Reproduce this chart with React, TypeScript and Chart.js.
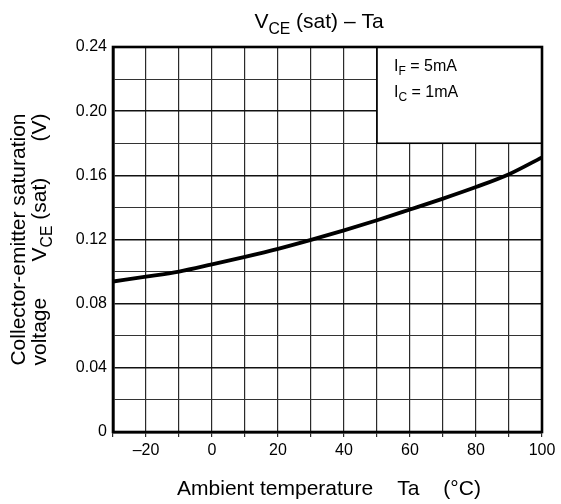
import React, { useEffect, useRef } from 'react';
import { Chart, registerables } from 'chart.js';

Chart.register(...registerables);

// ---- data ----
const temperatures = [-30, -20, -10, 0, 10, 20, 30, 40, 50, 60, 70, 80, 90, 100];
const vceSat = [0.0938, 0.0968, 0.1, 0.1045, 0.1092, 0.1142, 0.1198, 0.1257, 0.132, 0.1387, 0.1455, 0.1527, 0.1607, 0.1712];

const xLabelValues = [-20, 0, 20, 40, 60, 80, 100];
const xLabelTexts = ['\u201320', '0', '20', '40', '60', '80', '100'];
const yLabelValues = [0, 0.04, 0.08, 0.12, 0.16, 0.2, 0.24];
const yLabelTexts = ['0', '0.04', '0.08', '0.12', '0.16', '0.20', '0.24'];

const legendBoxX = [50, 100];
const legendBoxY = [0.18, 0.24];
const legendLines = [
  ['I', 'F', ' = 5mA'],
  ['I', 'C', ' = 1mA'],
];

const FONT = '"Liberation Sans", Arial, Helvetica, sans-serif';

type Part = { t: string; sub?: boolean };

function richWidth(ctx: CanvasRenderingContext2D, parts: Part[], size: number) {
  let w = 0;
  for (const p of parts) {
    ctx.font = `${p.sub ? size * 0.75 : size}px ${FONT}`;
    w += ctx.measureText(p.t).width;
  }
  return w;
}

function drawRich(ctx: CanvasRenderingContext2D, parts: Part[], x: number, y: number, size: number) {
  let cx = x;
  ctx.textAlign = 'left';
  ctx.textBaseline = 'alphabetic';
  for (const p of parts) {
    const s = p.sub ? size * 0.75 : size;
    ctx.font = `${s}px ${FONT}`;
    ctx.fillText(p.t, cx, p.sub ? y + size * 0.28 : y);
    cx += ctx.measureText(p.t).width;
  }
}

function findIndex(values: number[], v: number) {
  for (let i = 0; i < values.length; i++) if (Math.abs(values[i] - v) < 1e-6) return i;
  return -1;
}

const overlayPlugin = {
  id: 'overlay',
  afterDatasetsDraw(chart: any) {
    const { ctx, chartArea: ca, scales } = chart;
    const x = scales.x;
    const y = scales.y;
    ctx.save();
    // legend box
    const bx1 = x.getPixelForValue(legendBoxX[0]);
    const bx2 = x.getPixelForValue(legendBoxX[1]);
    const by1 = y.getPixelForValue(legendBoxY[1]);
    const by2 = y.getPixelForValue(legendBoxY[0]);
    ctx.fillStyle = '#fff';
    ctx.fillRect(bx1, by1, bx2 - bx1, by2 - by1);
    ctx.strokeStyle = '#000';
    ctx.lineWidth = 1.6;
    ctx.strokeRect(bx1, by1, bx2 - bx1, by2 - by1);
    ctx.fillStyle = '#000';
    legendLines.forEach((ln, i) => {
      drawRich(ctx, [{ t: ln[0] }, { t: ln[1], sub: true }, { t: ln[2] }], bx1 + 17, by1 + 24 + i * 26, 16);
    });
    // frame
    ctx.lineWidth = 2.6;
    ctx.strokeRect(ca.left, ca.top, ca.right - ca.left, ca.bottom - ca.top);

    // title
    const tParts: Part[] = [{ t: 'V' }, { t: 'CE', sub: true }, { t: ' (sat) \u2013 Ta' }];
    const tw = richWidth(ctx, tParts, 21);
    drawRich(ctx, tParts, 319 - tw / 2, 28, 21);

    // x axis title
    ctx.font = `21px ${FONT}`;
    const xPieces = ['Ambient temperature', 'Ta', '(\u00b0C)'];
    const gap = 24;
    const widths = xPieces.map((p) => ctx.measureText(p).width);
    const total = widths.reduce((a, b) => a + b, 0) + gap * 2;
    let cx = 329 - total / 2;
    ctx.textAlign = 'left';
    ctx.textBaseline = 'alphabetic';
    xPieces.forEach((p, i) => {
      ctx.fillText(p, cx, 495);
      cx += widths[i] + gap;
    });

    // y axis title (rotated)
    const midY = (ca.top + ca.bottom) / 2;
    ctx.translate(0, midY);
    ctx.rotate(-Math.PI / 2);
    const size = 21;
    ctx.font = `${size}px ${FONT}`;
    const line1 = 'Collector-emitter saturation';
    const l1w = ctx.measureText(line1).width;
    ctx.fillText(line1, -l1w / 2, 25);
    const segs: Part[][] = [
      [{ t: 'voltage' }],
      [{ t: 'V' }, { t: 'CE', sub: true }, { t: ' (sat)' }],
      [{ t: '(V)' }],
    ];
    const sw = segs.map((s) => richWidth(ctx, s, size));
    const free = l1w - sw.reduce((a, b) => a + b, 0);
    let px = -l1w / 2;
    segs.forEach((s, i) => {
      drawRich(ctx, s, px, 46, size);
      px += sw[i] + free / 2;
    });
    ctx.restore();
  },
};

export default function App() {
  const ref = useRef<HTMLCanvasElement | null>(null);
  useEffect(() => {
    if (!ref.current) return;
    Chart.defaults.font.family = FONT;
    const chart = new Chart(ref.current, {
      type: 'line',
      data: {
        datasets: [
          {
            data: temperatures.map((t, i) => ({ x: t, y: vceSat[i] })),
            borderColor: '#000',
            borderWidth: 3.8,
            pointRadius: 0,
            fill: false,
            cubicInterpolationMode: 'monotone',
          },
        ],
      },
      options: {
        responsive: false,
        animation: false,
        devicePixelRatio: 1,
        layout: { padding: { top: 47, right: 19, left: 0, bottom: 0 } },
        plugins: { legend: { display: false }, tooltip: { enabled: false }, title: { display: false } },
        scales: {
          x: {
            type: 'linear',
            min: -30,
            max: 100,
            afterFit: (s: any) => {
              s.height = 72;
            },
            ticks: {
              stepSize: 10,
              autoSkip: false,
              maxRotation: 0,
              color: '#000',
              font: { size: 16 },
              padding: 4,
              callback: (v: any) => {
                const i = findIndex(xLabelValues, Number(v));
                return i >= 0 ? xLabelTexts[i] : '';
              },
            },
            grid: {
              color: '#2a2a2a',
              lineWidth: 1.2,
              tickLength: 5,
              drawTicks: true,
            },
            border: { display: true, color: '#000', width: 2.6 },
          },
          y: {
            type: 'linear',
            min: 0,
            max: 0.24,
            afterFit: (s: any) => {
              s.width = 113;
            },
            ticks: {
              stepSize: 0.02,
              autoSkip: false,
              color: '#000',
              font: { size: 16 },
              padding: 6,
              callback: (v: any) => {
                const i = findIndex(yLabelValues, Number(v));
                return i >= 0 ? yLabelTexts[i] : '';
              },
            },
            grid: {
              drawTicks: false,
              color: (c: any) => (findIndex(yLabelValues, c.tick ? c.tick.value : -1) >= 0 ? '#111' : '#333'),
              lineWidth: (c: any) => (findIndex(yLabelValues, c.tick ? c.tick.value : -1) >= 0 ? 1.6 : 1.1),
            },
            border: { display: true, color: '#000', width: 2.6 },
          },
        },
      },
      plugins: [overlayPlugin],
    });
    return () => chart.destroy();
  }, []);
  return (
    <div style={{ position: 'absolute', left: 0, top: 0, width: 561, height: 504, background: '#fff' }}>
      <canvas ref={ref} width={561} height={504} style={{ display: 'block' }} />
    </div>
  );
}
